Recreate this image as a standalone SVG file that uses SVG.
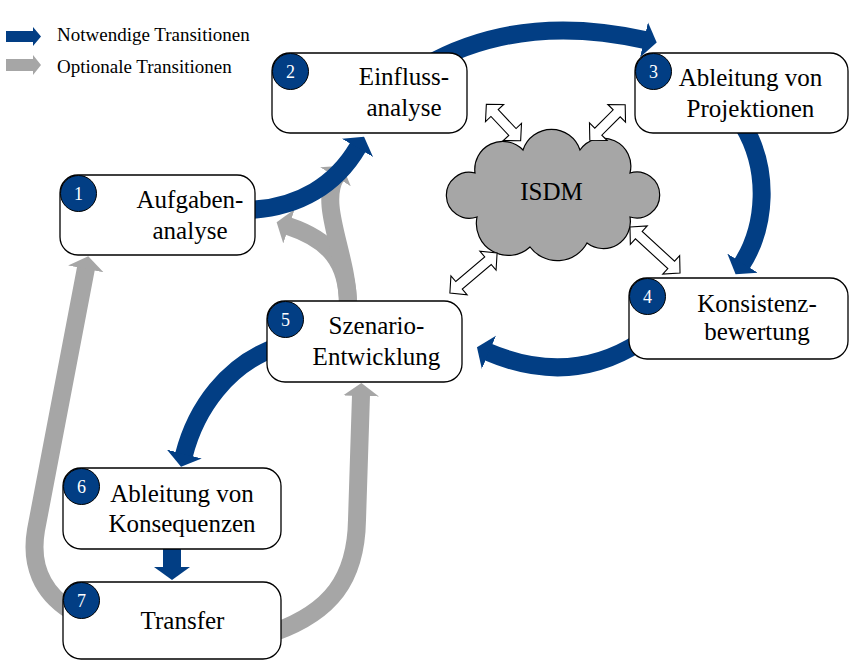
<svg xmlns="http://www.w3.org/2000/svg" width="852" height="660" viewBox="0 0 852 660">
<defs>
<style>
.box{fill:#fff;stroke:#000;stroke-width:1.3}
.num{fill:#023E84;stroke:#000;stroke-width:1}
.nt{font-family:"Liberation Serif","Times New Roman",serif;font-size:18px;fill:#fff;text-anchor:middle}
.lbl{font-family:"Liberation Serif","Times New Roman",serif;font-size:25px;fill:#000;text-anchor:middle}
.leg{font-family:"Liberation Serif","Times New Roman",serif;font-size:19px;fill:#000}
.blue{fill:none;stroke:#023E84;stroke-width:18;marker-end:url(#hb)}
.gray{fill:none;stroke:#A6A6A6;stroke-width:18;marker-end:url(#hg)}
.dbl{fill:#fff;stroke:#000;stroke-width:1.1;stroke-linejoin:miter}
</style>
<marker id="hb" viewBox="0 -20 14 40" refX="1" refY="0" markerWidth="14" markerHeight="40" markerUnits="userSpaceOnUse" orient="auto"><path d="M0,-18 L13,0 L0,18 Z" fill="#023E84"/></marker>
<marker id="hg" viewBox="0 -20 14 40" refX="1" refY="0" markerWidth="14" markerHeight="40" markerUnits="userSpaceOnUse" orient="auto"><path d="M0,-18 L13,0 L0,18 Z" fill="#A6A6A6"/></marker>
</defs>
<rect width="852" height="660" fill="#fff"/>

<g id="legend">
<path d="M6,31 H33 V27 L41,36.5 L33,46 V42 H6 Z" fill="#023E84"/>
<text class="leg" x="57" y="41">Notwendige Transitionen</text>
<path d="M6,59 H33 V55 L41,65 L33,75 V71 H6 Z" fill="#A6A6A6"/>
<text class="leg" x="57" y="72.5">Optionale Transitionen</text>
</g>

<g id="connectors">
<path class="gray" d="M70,610 C42,592 30,565 36,530 L86,268"/>
<path class="gray" d="M275,632 C330,612 356,580 357,520 L361,395"/>
<path class="gray" d="M348,305 C348,262 330,240 288,226"/>
<path class="gray" d="M348,305 C348,255 318,205 336,176"/>
<path class="blue" d="M245,210 C300,209 337,183 358,147"/>
<path class="blue" d="M425,66 Q520,12 645,40"/>
<path class="blue" d="M743,125 C770,170 766,226 742,264"/>
<path class="blue" d="M640,342 Q570,387 488,352"/>
<path class="blue" d="M277,347 C228,364 196,408 184,455"/>
<path class="blue" d="M172,545 L172,568"/>
</g>

<g id="isdm">
<path d="M475,173 A28,28 0 0,1 523,150 A30,30 0 0,1 580,150 A28,28 0 0,1 630,173 A23,23 0 1,1 630,217 A27,27 0 0,1 587,243 A34,34 0 0,1 530,247 A32,32 0 0,1 477,217 A23,23 0 1,1 475,173 Z" fill="#A6A6A6" stroke="#000" stroke-width="1.2"/>
<text class="lbl" x="551.5" y="200">ISDM</text>
</g>

<g id="links">
<polygon class="dbl" transform="translate(503.5,122.5) rotate(46.7)" points="-25,0 -13,-12.5 -13,-5 13,-5 13,-12.5 25,0 13,12.5 13,5 -13,5 -13,12.5"/>
<polygon class="dbl" transform="translate(607.5,122.5) rotate(-45)" points="-25,0 -13,-12.5 -13,-5 13,-5 13,-12.5 25,0 13,12.5 13,5 -13,5 -13,12.5"/>
<polygon class="dbl" transform="translate(655,250) rotate(42.6)" points="-34,0 -22,-12.5 -22,-5 22,-5 22,-12.5 34,0 22,12.5 22,5 -22,5 -22,12.5"/>
<polygon class="dbl" transform="translate(473.5,273) rotate(-40.4)" points="-31,0 -19,-12.5 -19,-5 19,-5 19,-12.5 31,0 19,12.5 19,5 -19,5 -19,12.5"/>
</g>

<g id="node1">
<rect class="box" x="60" y="175" width="195" height="80" rx="18"/>
<circle class="num" cx="78.5" cy="193.5" r="18"/>
<text class="nt" x="78.5" y="199.5">1</text>
<text class="lbl" x="190" y="208">Aufgaben-</text>
<text class="lbl" x="190" y="239">analyse</text>
</g>
<g id="node2">
<rect class="box" x="272" y="53" width="195" height="80" rx="18"/>
<circle class="num" cx="290.5" cy="71.5" r="18"/>
<text class="nt" x="290.5" y="77.5">2</text>
<text class="lbl" x="404" y="85">Einfluss-</text>
<text class="lbl" x="404" y="116">analyse</text>
</g>
<g id="node3">
<rect class="box" x="635" y="53" width="213" height="80" rx="18"/>
<circle class="num" cx="653.5" cy="71.5" r="18"/>
<text class="nt" x="653.5" y="77.5">3</text>
<text class="lbl" x="750.5" y="86">Ableitung von</text>
<text class="lbl" x="750.5" y="117">Projektionen</text>
</g>
<g id="node4">
<rect class="box" x="629" y="278" width="219" height="81" rx="18"/>
<circle class="num" cx="647.5" cy="296.5" r="18"/>
<text class="nt" x="647.5" y="302.5">4</text>
<text class="lbl" x="757" y="312">Konsistenz-</text>
<text class="lbl" x="757" y="340">bewertung</text>
</g>
<g id="node5">
<rect class="box" x="267" y="301" width="195" height="81" rx="18"/>
<circle class="num" cx="285.5" cy="319.5" r="18"/>
<text class="nt" x="285.5" y="325.5">5</text>
<text class="lbl" x="376.5" y="334">Szenario-</text>
<text class="lbl" x="376.5" y="365">Entwicklung</text>
</g>
<g id="node6">
<rect class="box" x="63" y="468" width="218" height="81" rx="18"/>
<circle class="num" cx="81.5" cy="486.5" r="18"/>
<text class="nt" x="81.5" y="492.5">6</text>
<text class="lbl" x="182" y="502">Ableitung von</text>
<text class="lbl" x="182" y="532">Konsequenzen</text>
</g>
<g id="node7">
<rect class="box" x="63" y="582" width="218" height="77" rx="18"/>
<circle class="num" cx="81.5" cy="600.5" r="18"/>
<text class="nt" x="81.5" y="606.5">7</text>
<text class="lbl" x="182.5" y="629">Transfer</text>
</g>
</svg>
